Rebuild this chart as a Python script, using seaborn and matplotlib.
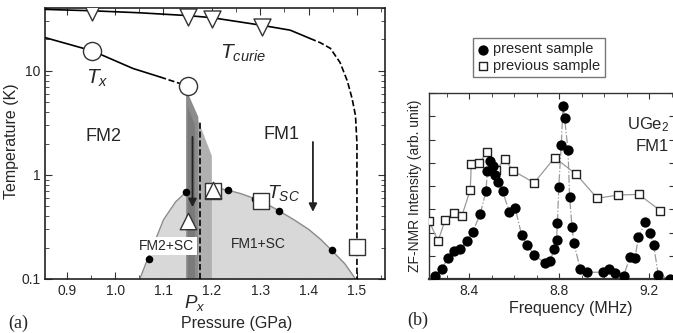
import numpy as np
import matplotlib
matplotlib.use("Agg")
import matplotlib.pyplot as plt
from matplotlib.ticker import MultipleLocator, NullFormatter, FixedLocator
import seaborn as sns

# ---- panel (a): phase diagram of UGe2 ----
p_curie = [0.953, 1.151, 1.200, 1.303]
t_curie = [36.9, 33.0, 31.3, 26.0]
p_curie_line = [0.855, 0.953, 1.05, 1.151, 1.200, 1.303, 1.362, 1.403]
t_curie_line = [38.8, 37.6, 36.0, 33.8, 32.3, 27.3, 24.5, 20.4]
p_curie_dash = [1.403, 1.425, 1.445, 1.465, 1.480, 1.490, 1.497, 1.500, 1.500]
t_curie_dash = [20.4, 18.5, 16.4, 12.0, 8.0, 5.4, 3.7, 2.0, 0.1]

p_tx = [0.953, 1.151]
t_tx = [15.5, 7.1]
p_tx_line = [0.855, 0.953, 1.037, 1.093]
t_tx_line = [20.8, 15.5, 10.5, 8.7]
p_tx_dash = [1.093, 1.151]
t_tx_dash = [8.7, 7.1]

p_sc_dots = [1.070, 1.146, 1.234, 1.289, 1.338, 1.448]
t_sc_dots = [0.155, 0.68, 0.71, 0.59, 0.454, 0.188]
p_sc_tri = [1.151, 1.202]
t_sc_tri = [0.358, 0.713]
p_sc_sq = [1.203, 1.301, 1.500]
t_sc_sq = [0.70, 0.558, 0.202]

p_dome = [1.051, 1.062, 1.075, 1.10, 1.125, 1.146, 1.17, 1.19, 1.21, 1.234, 1.26,
          1.289, 1.315, 1.338, 1.37, 1.40, 1.425, 1.448, 1.475, 1.497]
t_dome = [0.1, 0.135, 0.19, 0.37, 0.55, 0.68, 0.74, 0.76, 0.75, 0.71, 0.66,
          0.59, 0.52, 0.454, 0.37, 0.30, 0.24, 0.188, 0.14, 0.1]

# ---- panel (b): ZF-NMR spectra ----
f_present = [8.250, 8.279, 8.306, 8.331, 8.360, 8.390, 8.416, 8.449, 8.475, 8.481,
             8.493, 8.505, 8.516, 8.530, 8.549, 8.578, 8.605, 8.633, 8.658, 8.689,
             8.736, 8.761, 8.777, 8.788, 8.792, 8.798, 8.809, 8.817, 8.824, 8.839,
             8.846, 8.857, 8.865, 8.894, 8.923, 8.994, 9.023, 9.048, 9.086, 9.115,
             9.137, 9.151, 9.182, 9.203, 9.219, 9.240, 9.291]
i_present = [0.13, 0.42, 0.92, 1.22, 1.28, 1.63, 2.03, 2.78, 3.78, 4.65,
             5.08, 4.86, 4.47, 4.18, 3.78, 2.89, 3.04, 1.89, 1.46, 1.03,
             0.70, 0.79, 1.29, 1.68, 2.39, 3.94, 5.76, 7.45, 6.91, 5.55,
             3.54, 2.22, 1.54, 0.42, 0.29, 0.29, 0.42, 0.25, 0.14, 0.96,
             0.92, 1.79, 2.46, 1.99, 1.46, 0.17, 0.0]
f_previous = [8.223, 8.262, 8.294, 8.331, 8.368, 8.405, 8.410, 8.446, 8.481, 8.519,
              8.559, 8.596, 8.689, 8.780, 8.876, 8.969, 9.060, 9.153, 9.249]
i_previous = [2.49, 1.63, 2.54, 2.83, 2.72, 3.83, 4.95, 5.00, 5.48, 4.69,
              5.15, 4.65, 4.14, 5.22, 4.50, 3.47, 3.61, 3.64, 2.94]

sns.set_style("ticks")
plt.rcParams['font.family'] = ['Liberation Sans', 'DejaVu Sans']
plt.rcParams['mathtext.fontset'] = 'custom'
plt.rcParams['mathtext.rm'] = 'Liberation Sans'
plt.rcParams['mathtext.it'] = 'Liberation Sans:italic'
plt.rcParams['xtick.direction'] = 'in'
plt.rcParams['ytick.direction'] = 'in'

W, H = 673, 333
fig = plt.figure(figsize=(W / 100, H / 100), dpi=100)
ax1 = fig.add_axes([45 / W, 1 - 279 / H, 340 / W, 271 / H])
ax2 = fig.add_axes([429 / W, 1 - 279 / H, 246 / W, 186 / H])

# ---------- (a) ----------
ax1.set_yscale('log')
ax1.set_xlim(0.855, 1.558)
ax1.set_ylim(0.1, 40)

# superconducting dome
ax1.fill_between(p_dome, 0.1, t_dome, color='#d8d8d8', lw=0, zorder=1)
sns.lineplot(x=p_dome, y=t_dome, sort=False, estimator=None, color='#8a8a8a', lw=1.0, ax=ax1, zorder=2)

# shaded band around Px
ax1.fill([1.147, 1.147, 1.200, 1.200, 1.158, 1.151], [0.1, 6.6, 1.52, 0.1, 0.1, 0.1],
         color='#b0b0b0', lw=0, zorder=2)
ax1.fill([1.147, 1.147, 1.172, 1.172], [0.1, 6.6, 3.6, 0.1], color='#8c8c8c', lw=0, zorder=2)
ax1.fill([1.150, 1.150, 1.165, 1.165], [0.1, 4.5, 3.0, 0.1], color='#7a7a7a', lw=0, zorder=2)
ax1.plot([1.176, 1.176], [0.1, 3.2], ls='--', color='k', lw=1.2, zorder=3)

# Tcurie and Tx lines
sns.lineplot(x=p_curie_line, y=t_curie_line, sort=False, estimator=None, color='k', lw=1.2, ax=ax1, zorder=3)
ax1.plot(p_curie_dash, t_curie_dash, ls='--', color='k', lw=1.2, zorder=3)
sns.lineplot(x=p_tx_line, y=t_tx_line, sort=False, estimator=None, color='k', lw=1.2, ax=ax1, zorder=3)
ax1.plot(p_tx_dash, t_tx_dash, ls='--', color='k', lw=1.2, zorder=3)

sns.scatterplot(x=p_curie, y=t_curie, marker='v', s=150, facecolor='white', edgecolor='#333333',
                linewidth=1.0, ax=ax1, zorder=5)
sns.scatterplot(x=p_tx, y=t_tx, marker='o', s=170, facecolor='white', edgecolor='#333333',
                linewidth=1.0, ax=ax1, zorder=5)
sns.scatterplot(x=p_sc_dots, y=t_sc_dots, marker='o', s=30, color='black', linewidth=0, ax=ax1, zorder=5)
sns.scatterplot(x=p_sc_sq, y=t_sc_sq, marker='s', s=130, facecolor='white', edgecolor='#333333',
                linewidth=1.0, ax=ax1, zorder=5)
sns.scatterplot(x=p_sc_tri, y=t_sc_tri, marker='^', s=140, facecolor='white', edgecolor='#333333',
                linewidth=1.0, ax=ax1, zorder=6)

# arrows
ax1.annotate('', xy=(1.160, 0.46), xytext=(1.160, 2.46),
             arrowprops=dict(arrowstyle='-|>', color='#222222', lw=1.3, mutation_scale=12), zorder=7)
ax1.annotate('', xy=(1.409, 0.415), xytext=(1.409, 2.2),
             arrowprops=dict(arrowstyle='-|>', color='#222222', lw=1.3, mutation_scale=12), zorder=7)

ax1.text(1.265, 14.6, r'$T_{curie}$', fontsize=15, ha='center', va='center')
ax1.text(0.964, 8.4, r'$T_x$', fontsize=15, ha='center', va='center')
ax1.text(0.975, 2.36, 'FM2', fontsize=13, ha='center', va='center')
ax1.text(1.345, 2.46, 'FM1', fontsize=13, ha='center', va='center')
ax1.text(1.349, 0.67, r'$T_{SC}$', fontsize=14, ha='center', va='center')
ax1.text(1.107, 0.208, 'FM2+SC', fontsize=10, ha='center', va='center', zorder=8,
         bbox=dict(facecolor='white', edgecolor='none', pad=1.5))
ax1.text(1.296, 0.217, 'FM1+SC', fontsize=10, ha='center', va='center', zorder=8)
ax1.text(1.164, -0.088, r'$P_x$', fontsize=13.5, ha='center', va='center',
         transform=ax1.get_xaxis_transform())

ax1.xaxis.set_major_locator(FixedLocator([0.9, 1.0, 1.1, 1.2, 1.3, 1.4, 1.5]))
ax1.xaxis.set_minor_locator(MultipleLocator(0.05))
ax1.set_xticklabels(['0.9', '1.0', '1.1', '1.2', '1.3', '1.4', '1.5'])
ax1.set_yticks([0.1, 1, 10])
ax1.set_yticklabels(['0.1', '1', '10'])
ax1.tick_params(which='both', top=True, right=True, labelsize=10, color='#333333')
ax1.tick_params(which='major', length=5)
ax1.tick_params(which='minor', length=3)
ax1.set_xlabel('Pressure (GPa)', fontsize=11.5)
ax1.xaxis.set_label_coords(0.564, -0.138)
ax1.set_ylabel('Temperature (K)', fontsize=11.5)
ax1.yaxis.set_label_coords(-0.077, 0.51)
for s in ax1.spines.values():
    s.set_linewidth(1.2)
    s.set_color('#222222')

# ---------- (b) ----------
ax2.set_xlim(8.222, 9.314)
ax2.set_ylim(0, 8)
sns.lineplot(x=f_previous, y=i_previous, sort=False, estimator=None, color='#9a9a9a', lw=0.9, ax=ax2, zorder=2)
sns.lineplot(x=f_present, y=i_present, sort=False, estimator=None, color='#9a9a9a', lw=0.9,
             linestyle='-.', ax=ax2, zorder=2)
sns.scatterplot(x=f_previous, y=i_previous, marker='s', s=28, facecolor='white', edgecolor='#222222',
                linewidth=1.0, ax=ax2, zorder=4, label='previous sample', legend=False)
sns.scatterplot(x=f_present, y=i_present, marker='o', s=55, color='black', linewidth=0,
                ax=ax2, zorder=5, label='present sample', legend=False)

ax2.text(0.975, 0.83, 'UGe$_2$', fontsize=12, ha='right', va='center', transform=ax2.transAxes)
ax2.text(0.975, 0.71, 'FM1', fontsize=12, ha='right', va='center', transform=ax2.transAxes)

ax2.xaxis.set_major_locator(FixedLocator([8.4, 8.8, 9.2]))
ax2.xaxis.set_minor_locator(MultipleLocator(0.1))
ax2.set_xticklabels(['8.4', '8.8', '9.2'])
ax2.yaxis.set_major_locator(MultipleLocator(1))
ax2.yaxis.set_major_formatter(NullFormatter())
ax2.tick_params(which='both', top=True, right=True, labelsize=10, color='#333333')
ax2.tick_params(which='major', length=4)
ax2.tick_params(which='minor', length=3)
ax2.set_xlabel('Frequency (MHz)', fontsize=11.5)
ax2.xaxis.set_label_coords(0.578, -0.12)
ax2.set_ylabel('ZF-NMR Intensity (arb. unit)', fontsize=10)
ax2.yaxis.set_label_coords(-0.03, 0.5)
for s in ax2.spines.values():
    s.set_linewidth(1.0)
    s.set_color('#333333')
ax2.spines['bottom'].set_linewidth(1.6)

h, l = ax2.get_legend_handles_labels()
order = [l.index('present sample'), l.index('previous sample')]
fig.legend([h[i] for i in order], [l[i] for i in order], loc='upper left',
           bbox_to_anchor=(473 / W, 1 - 38 / H), fontsize=10.5, frameon=True, fancybox=False,
           edgecolor='#555555', handletextpad=0.3, handlelength=0.8, borderpad=0.3,
           labelspacing=0.15, borderaxespad=0)

fig.text(18 / W, 1 - 323 / H, '(a)', family='Liberation Serif', fontsize=13, ha='center', va='center')
fig.text(418 / W, 1 - 320 / H, '(b)', family='Liberation Serif', fontsize=13, ha='center', va='center')

fig.savefig('out.png', dpi=100)
